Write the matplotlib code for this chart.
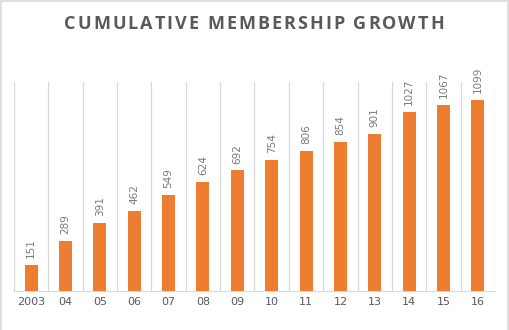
import matplotlib
matplotlib.use("Agg")
import matplotlib.pyplot as plt
from matplotlib.patches import Rectangle
from matplotlib.textpath import TextPath
from matplotlib.font_manager import FontProperties

categories = ["2003", "04", "05", "06", "07", "08", "09", "10", "11", "12", "13", "14", "15", "16"]
members = [151, 289, 391, 462, 549, 624, 692, 754, 806, 854, 901, 1027, 1067, 1099]
title = "CUMULATIVE MEMBERSHIP GROWTH"

W, H = 510, 330
fig = plt.figure(figsize=(W / 100, H / 100), dpi=100)
ax = fig.add_axes([14 / W, 1 - 291 / H, (495 - 14) / W, (291 - 82) / H])

x = range(len(categories))
ax.bar(x, members, width=0.38, color="#ED7D31", zorder=3)
for xi, v in zip(x, members):
    ax.annotate(str(v), (xi, v), xytext=(0, 5), textcoords="offset points",
                rotation=90, ha="center", va="bottom", fontsize=7.5,
                color="#7a7a7a", family="DejaVu Sans")

ax.set_xlim(-0.5, len(categories) - 0.5)
ax.set_ylim(0, 1200)
for b in [i - 0.5 for i in range(len(categories) + 1)]:
    ax.axvline(b, color="#d9d9d9", lw=0.9, zorder=1)
ax.set_xticks(list(x))
ax.set_xticklabels(categories, fontsize=8, color="#595959")
ax.tick_params(axis="x", length=0, pad=4)
ax.set_yticks([])
for s in ["top", "right", "left"]:
    ax.spines[s].set_visible(False)
ax.spines["bottom"].set_color("#d9d9d9")

# letter-spaced title
fp = FontProperties(family="Open Sans", weight="bold", size=13)
fig.canvas.draw()
renderer = fig.canvas.get_renderer()
tracking = 2.0  # px
widths = []
for ch in title:
    t = fig.text(0, 0, ch, fontproperties=fp)
    if ch == " ":
        t2 = fig.text(0, 0, "a a", fontproperties=fp)
        t3 = fig.text(0, 0, "aa", fontproperties=fp)
        w = t2.get_window_extent(renderer).width - t3.get_window_extent(renderer).width
        t2.remove(); t3.remove()
    else:
        w = t.get_window_extent(renderer).width
    t.remove()
    widths.append(w)
total = sum(widths) + tracking * (len(title) - 1)
cx = 254
xpos = cx - total / 2
for ch, w in zip(title, widths):
    if ch != " ":
        fig.text(xpos / W, 1 - 24 / H, ch, fontproperties=fp, color="#595959",
                 ha="left", va="center")
    xpos += w + tracking

fig.patches.append(Rectangle((0.5 / W, -0.02), 1 - 2.5 / W, 1 - 0.5 / H + 0.02,
                             transform=fig.transFigure, fill=False, edgecolor="#d9d9d9", lw=1.2))

fig.savefig("out.png", dpi=100)
